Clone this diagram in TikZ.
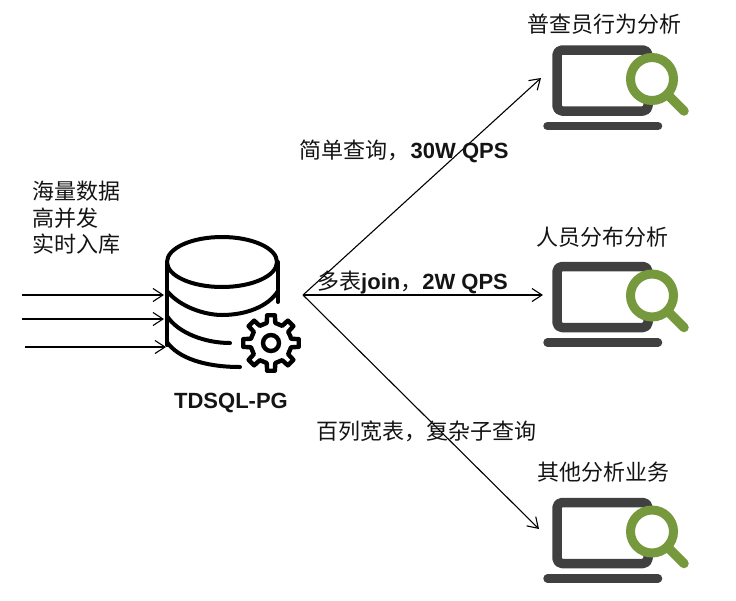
\documentclass[tikz,border=0pt]{standalone}
\usepackage{fontspec}
\usetikzlibrary{arrows.meta}
\setmainfont{Liberation Sans}
\newfontfamily\cjk{Noto Sans CJK SC}
\definecolor{lapgray}{HTML}{404040}
\definecolor{lapgreen}{HTML}{76993D}
\tikzset{
  x=1pt,y=-1pt,
  lbl/.style={inner sep=0pt,font=\fontsize{22}{26.5}\selectfont,text=black!92},
  flow/.style={draw=black,line width=1.1pt,-{Straight Barb[length=10pt,width=13pt,line width=1.1pt]}},
  dbline/.style={draw=black,line width=4pt,line cap=round,line join=round},
  lapframe/.style={draw=lapgray,line width=9.5pt,rounded corners=5pt,line join=round},
  lapbase/.style={draw=lapgray,line width=8.5pt,line cap=round},
  lens/.style={draw=lapgreen,line width=9pt},
  lenshandle/.style={draw=lapgreen,line width=9.5pt,line cap=round},
}
\newcommand{\laptop}[1]{%
  \begin{scope}[shift={(0,#1)}]
    \draw[lapframe] (557,50) rectangle (648,111);
    \draw[lapbase] (547.5,126) -- (658,126);
    \fill[white] (652,79) circle (21.5);
    \draw[lens] (652,79) circle (21.5);
    \draw[lenshandle] (668,95) -- (684,111);
  \end{scope}}
\begin{document}
\begin{tikzpicture}
\useasboundingbox (0,0) rectangle (736,600);
% database
\draw[dbline] (222,262) ellipse [x radius=55, y radius=25];
\draw[dbline] (167,262) -- (167,345);
\draw[dbline] (278,262) -- (278,302);
\draw[dbline] (167,291) .. controls (180,307) and (205,315) .. (222,315) .. controls (245,315) and (268,307) .. (278,291);
\draw[dbline] (167,316) .. controls (178,333) and (205,343) .. (230,343);
\draw[dbline] (167,342) .. controls (178,358) and (205,367) .. (240,367);
% gear
\begin{scope}[shift={(271,343)}]
  \draw[draw=black,line width=4.4pt,line join=round]
    (-22.5+4:20.5)
    \foreach \a in {0,45,...,315} {
      -- (\a-12:20.5)
      -- (\a-8:28) -- (\a+8:28)
      -- (\a+12:20.5)
    } -- cycle;
  \draw[draw=black,line width=4.4pt] (0,0) circle (8);
\end{scope}
% laptops
\laptop{0}
\laptop{216.5}
\laptop{452.5}
% anchors
\coordinate (hub) at (303,295);
\coordinate (i1) at (22,295); \coordinate (i1e) at (164,295);
\coordinate (i2) at (22,319); \coordinate (i2e) at (164,319);
\coordinate (i3) at (25,347); \coordinate (i3e) at (166,347);
\coordinate (o1) at (541,78);
\coordinate (o2) at (543,295);
\coordinate (o3) at (539,529);
\draw[flow] (i1) -- (i1e);
\draw[flow] (i2) -- (i2e);
\draw[flow] (i3) -- (i3e);
\draw[flow] (hub) -- (o1);
\draw[flow] (hub) -- (o2);
\draw[flow] (hub) -- (o3);
% text
\node[lbl,anchor=west,align=left] (src) at (32,218) {{\cjk 海量数据}\\{\cjk 高并发}\\{\cjk 实时入库}};
\node[lbl,font=\fontsize{22}{26}\selectfont\bfseries] (db) at (231,403) {TDSQL-PG};
\node[lbl,anchor=west] (t1) at (299,151) {{\cjk 简单查询^^^^ff0c}\kern1.5pt\textbf{30W QPS}};
\node[lbl,anchor=west] (t2) at (317,283) {{\cjk 多表}\textbf{join}{\cjk ^^^^ff0c}\textbf{2W QPS}};
\node[lbl,anchor=west] (t3) at (316,431) {{\cjk 百列宽表^^^^ff0c复杂子查询}};
\node[lbl] (a1) at (604,24) {\cjk 普查员行为分析};
\node[lbl] (a2) at (602,237) {\cjk 人员分布分析};
\node[lbl] (a3) at (603,472) {\cjk 其他分析业务};
\end{tikzpicture}
\end{document}
